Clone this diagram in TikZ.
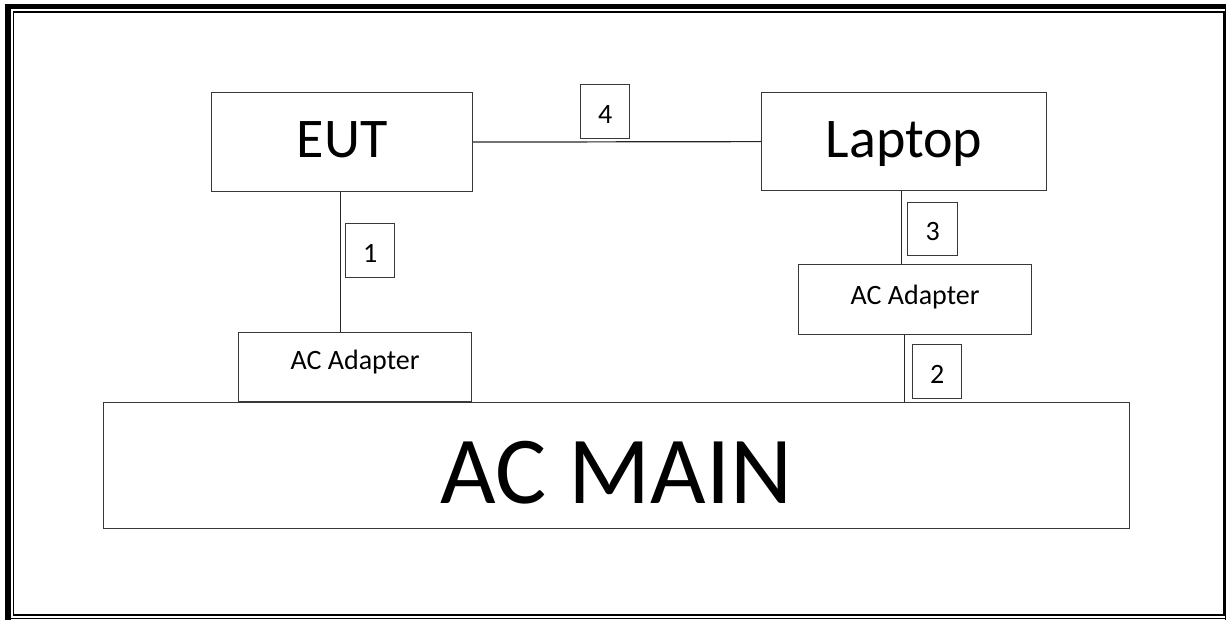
\documentclass[tikz,border=0pt]{standalone}
\usepackage{fontspec}
\setmainfont{Carlito}
\begin{document}
\begin{tikzpicture}[x=1pt,y=-1pt,
  box/.style={draw=black!78, line width=1.2pt, inner sep=0pt, anchor=north west,
              font=\fontsize{28}{30}\selectfont},
  bigtext/.style={font=\fontsize{56}{60}\selectfont, text height=36pt, text depth=5pt},
  hugetext/.style={font=\fontsize{96}{100}\selectfont},
  numbox/.style={box, text height=23.5pt, text depth=0pt},
  wire/.style={draw=black!85, line width=1.2pt},
  frame/.style={draw=black}
]
\useasboundingbox (0,0) rectangle (1226,620);
% page border
\draw[frame, line width=6.5pt] (7.75,4) -- (7.75,620);
\draw[frame, line width=5pt] (4.5,6.5) -- (1226,6.5);
\draw[frame, line width=2pt] (1226,4) -- (1226,620);
\draw[frame, line width=1.5pt] (4.5,618.7) -- (1226,618.7);
\draw[frame, line width=1.8pt] (13.5,11.8) rectangle (1224,614.8);

% boxes
\node[box, bigtext, minimum width=261pt, minimum height=99pt] (eut) at (211,92) {EUT};
\node[box, bigtext, minimum width=285pt, minimum height=98pt] (laptop) at (761,92) {Laptop};
\node[box, minimum width=233pt, minimum height=69pt, text height=20pt, text depth=15pt] (ad1) at (238,332) {AC Adapter};
\node[box, minimum width=233pt, minimum height=70pt, text height=20pt, text depth=10pt] (ad2) at (798,264) {AC Adapter};
\node[box, hugetext, minimum width=1026pt, minimum height=126pt, text height=76pt, text depth=0pt] (main) at (103,402) {AC MAIN};

% number boxes
\node[numbox, minimum width=49pt, minimum height=54pt] (n4) at (580,84) {4};
\node[numbox, minimum width=49pt, minimum height=54pt] (n1) at (345,223) {1};
\node[numbox, minimum width=50pt, minimum height=53pt] (n3) at (907,202) {3};
\node[numbox, minimum width=49pt, minimum height=54pt] (n2) at (912,344) {2};

% connectors
\coordinate (c1) at (340.5,0);
\coordinate (c3) at (901.3,0);
\coordinate (c2) at (904.3,0);
\draw[wire] (eut.east) -- (laptop.west);
\draw[wire] (eut.south -| c1) -- (ad1.north -| c1);
\draw[wire] (laptop.south -| c3) -- (ad2.north -| c3);
\draw[wire] (ad2.south -| c2) -- (main.north -| c2);
\end{tikzpicture}
\end{document}
